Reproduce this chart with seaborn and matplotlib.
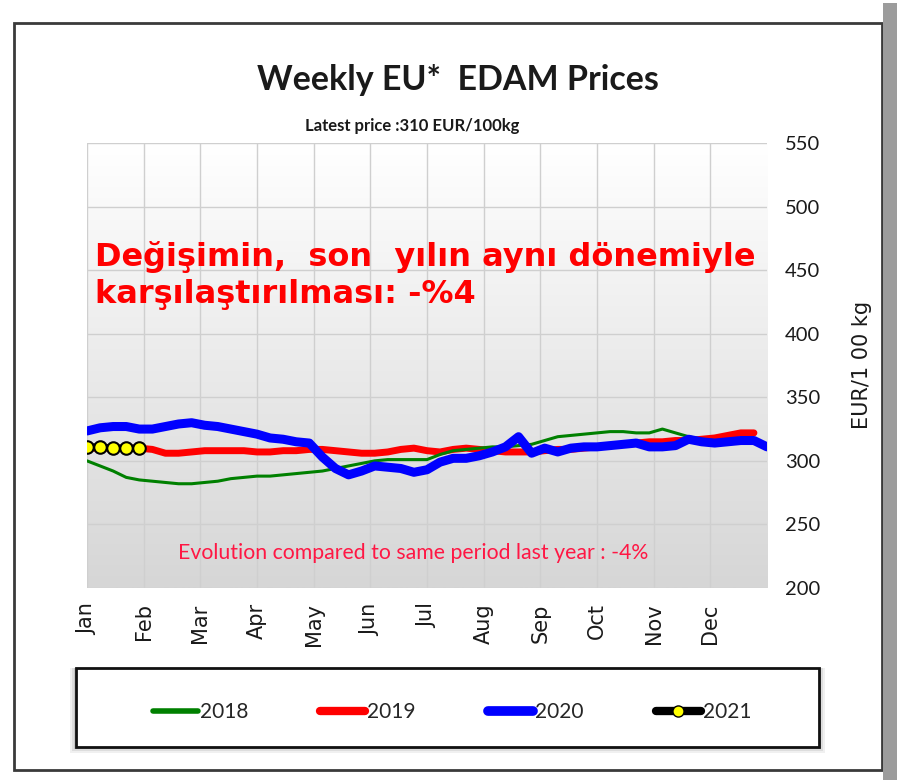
import numpy as np
import pandas as pd
import matplotlib
matplotlib.use("Agg")
import matplotlib.pyplot as plt
from matplotlib.patches import Rectangle
from matplotlib.lines import Line2D
import seaborn as sns

# Dados semanais (EUR/100kg)
semanas_2018 = list(range(52))
precos_2018 = [300, 296, 292, 287, 285, 284, 283, 282, 282, 283,
               284, 286, 287, 288, 288, 289, 290, 291, 292, 294,
               296, 298, 300, 301, 301, 301, 301, 305, 308, 309,
               310, 311, 311, 312, 313, 316, 319, 320, 321, 322,
               323, 323, 322, 322, 325, 322, 319, 317, 316, 316,
               315, 315]

semanas_2019 = list(range(52))
precos_2019 = [310, 310, 310, 310, 310, 309, 306, 306, 307, 308,
               308, 308, 308, 307, 307, 308, 308, 309, 309, 308,
               307, 306, 306, 307, 309, 310, 308, 307, 309, 310,
               309, 308, 307, 307, 307, 308, 309, 309, 310, 311,
               312, 313, 314, 315, 315, 316, 316, 317, 318, 320,
               322, 322]

semanas_2020 = list(range(53))
precos_2020 = [323.5, 326, 327, 327, 325, 325, 327, 329, 330, 328,
               327, 325, 323, 321, 318, 317, 315, 314, 303, 294,
               289, 292, 296, 295, 294, 291, 293, 299, 302, 302,
               304, 307, 311, 319, 306, 310, 307, 310, 311, 311,
               312, 313, 314, 311, 311, 312, 317, 315, 314, 315,
               316, 316, 311]

semanas_2021 = [0, 1, 2, 3, 4]
precos_2021 = [311, 311, 310, 310, 310]

meses = ['Jan', 'Feb', 'Mar', 'Apr', 'May', 'Jun',
         'Jul', 'Aug', 'Sep', 'Oct', 'Nov', 'Dec']
y_ticks = [200, 250, 300, 350, 400, 450, 500, 550]

sns.set_style("white")
plt.rcParams['font.family'] = ['DejaVu Sans']
narrow = ['Lato', 'DejaVu Sans']

W, H = 897, 780
fig = plt.figure(figsize=(W / 100, H / 100), dpi=100)
fig.patch.set_facecolor('white')

# moldura externa e barra cinza à direita
fig.add_artist(Rectangle((14 / W, 1 - 770 / H), (882 - 14) / W, (770 - 23) / H,
                         transform=fig.transFigure, fill=False,
                         edgecolor='#3a3a3a', linewidth=2))
fig.add_artist(Rectangle((883 / W, 0), 14 / W, 1 - 3 / H,
                         transform=fig.transFigure, facecolor='#9c9c9c',
                         edgecolor='none'))

ax = fig.add_axes([87 / W, 1 - 588 / H, 680 / W, 445 / H])

# fundo em degradê (branco em cima, cinza em baixo)
grad = np.linspace(0, 1, 256).reshape(-1, 1)
cmap = matplotlib.colors.LinearSegmentedColormap.from_list('bg', ['#ffffff', '#d6d6d6'])
ax.imshow(grad, extent=(0, 52, 200, 550), origin='upper', aspect='auto',
          cmap=cmap, zorder=0)

sns.lineplot(x=semanas_2019, y=precos_2019, ax=ax, color='#ff0000', linewidth=5, zorder=3)
sns.lineplot(x=semanas_2018, y=precos_2018, ax=ax, color='#008000', linewidth=2.2, zorder=4)
sns.lineplot(x=semanas_2020, y=precos_2020, ax=ax, color='#0000ff', linewidth=6.5, zorder=5)
sns.lineplot(x=semanas_2021, y=precos_2021, ax=ax, color='black', linewidth=5,
             marker='o', markersize=9, markerfacecolor='#ffff00',
             markeredgecolor='black', markeredgewidth=1.5, zorder=6)

ax.set_xlim(0, 52)
ax.set_ylim(200, 550)
pos_meses = [i * 52 / 12 for i in range(12)]
ax.set_xticks(pos_meses)
ax.set_xticklabels(meses, rotation=90, fontsize=15, color='#1a1a1a')
ax.set_yticks(y_ticks)
ax.yaxis.tick_right()
ax.set_yticklabels([str(v) for v in y_ticks], fontsize=14.5, family=narrow, color='#1a1a1a')
ax.tick_params(axis='y', length=0, pad=13)
ax.tick_params(axis='x', length=0, pad=11)
ax.grid(True, color='#cfcfcf', linewidth=1)
for s in ax.spines.values():
    s.set_visible(False)
for gl in ax.get_xgridlines() + ax.get_ygridlines():
    gl.set_zorder(1)

ax.yaxis.set_label_position('right')
ax.set_ylabel('EUR/1 00 kg', fontsize=15, color='#1a1a1a', rotation=90)
ax.yaxis.set_label_coords((852 - 87) / 680, (588 - 365) / 445)

# títulos
fig.text(458 / W, 1 - 80 / H, 'Weekly EU*  EDAM Prices', ha='center', va='center',
         fontsize=24.5, fontweight='bold', family=narrow, color='#1a1a1a')
fig.text(412 / W, 1 - 126 / H, 'Latest price :310 EUR/100kg', ha='center', va='center',
         fontsize=12, fontweight='bold', family=narrow, color='#1a1a1a')

# anotações
fig.text(95 / W, 1 - 266 / H, 'Değişimin,  son  yılın aynı dönemiyle', ha='left',
         va='baseline', fontsize=23, fontweight='bold', color='#ff0000')
fig.text(95 / W, 1 - 303 / H, 'karşılaştırılması: -%4', ha='left',
         va='baseline', fontsize=23, fontweight='bold', color='#ff0000')
fig.text(413 / W, 1 - 553 / H, 'Evolution compared to same period last year : -4%',
         ha='center', va='center', fontsize=15.3, family=narrow, color='#ff1744')

# caixa da legenda com sombra
for k, a in enumerate([0.06, 0.08, 0.10]):
    off = 6 - 2 * k
    fig.add_artist(Rectangle(((76 - off) / W, 1 - (747 + off) / H),
                             (819 - 76 + 2 * off) / W, (747 - 668 + off) / H,
                             transform=fig.transFigure, facecolor='black',
                             edgecolor='none', alpha=a))
fig.add_artist(Rectangle((76 / W, 1 - 747 / H), (819 - 76) / W, (747 - 668) / H,
                         transform=fig.transFigure, facecolor='white',
                         edgecolor='#111111', linewidth=2))

handles = [
    Line2D([], [], color='#008000', linewidth=4),
    Line2D([], [], color='#ff0000', linewidth=6),
    Line2D([], [], color='#0000ff', linewidth=7),
    Line2D([], [], color='black', linewidth=6, marker='o', markersize=8,
           markerfacecolor='#ffff00', markeredgecolor='black'),
]
leg = fig.legend(handles, ['2018', '2019', '2020', '2021'], loc='center',
                 bbox_to_anchor=(452 / W, 1 - 712 / H), ncol=4, frameon=False,
                 handlelength=2.16, handletextpad=0.1, columnspacing=3.46,
                 prop={'family': narrow, 'size': 15}, numpoints=1)

fig.savefig('out.png', dpi=100)
